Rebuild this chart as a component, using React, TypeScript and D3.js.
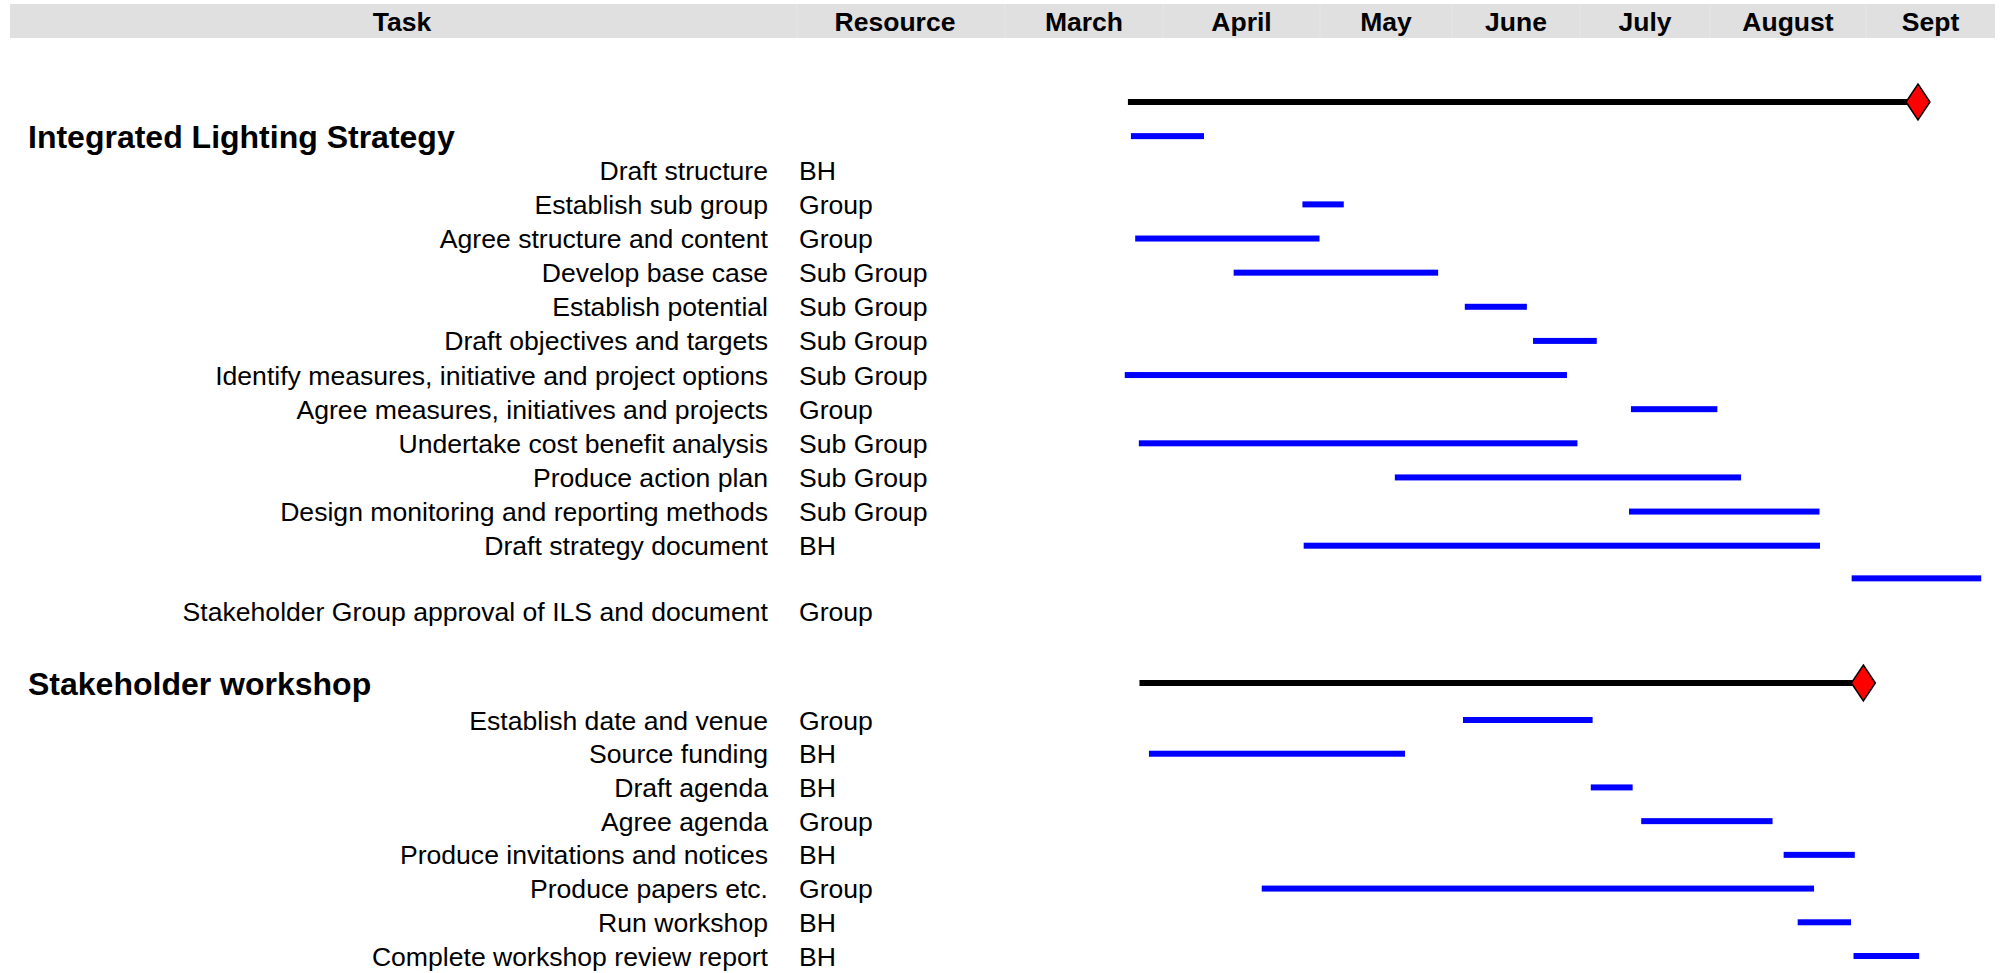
import React from "react";
import * as d3 from "d3";

// ---------- data ----------
const headerColumns = ["Task", "Resource"];
const monthLabels = ["March", "April", "May", "June", "July", "August", "Sept"];

const groupNames = ["Integrated Lighting Strategy", "Stakeholder workshop"];
const groupRows = [0, 16];
const summaryRows = [-1, 16];
// values in months counted from 1 March (0 = 1 March, 1 = 1 April, ...)
const summaryStart = [0.778, 0.851];
const milestoneAt = [6.403, 5.983];

const taskNames = [
  "Draft structure",
  "Establish sub group",
  "Agree structure and content",
  "Develop base case",
  "Establish potential",
  "Draft objectives and targets",
  "Identify measures, initiative and project options",
  "Agree measures, initiatives and projects",
  "Undertake cost benefit analysis",
  "Produce action plan",
  "Design monitoring and reporting methods",
  "Draft strategy document",
  "Stakeholder Group approval of ILS and document",
  "Establish date and venue",
  "Source funding",
  "Draft agenda",
  "Agree agenda",
  "Produce invitations and notices",
  "Produce papers etc.",
  "Run workshop",
  "Complete workshop review report",
];
const taskResources = [
  "BH", "Group", "Group", "Sub Group", "Sub Group", "Sub Group", "Sub Group",
  "Group", "Sub Group", "Sub Group", "Sub Group", "BH", "Group",
  "Group", "BH", "BH", "Group", "BH", "Group", "BH", "BH",
];
const taskRows = [1, 2, 3, 4, 5, 6, 7, 8, 9, 10, 11, 12, 14, 17, 18, 19, 20, 21, 22, 23, 24];
const barRows = [0, 2, 3, 4, 5, 6, 7, 8, 9, 10, 11, 12, 13, 17, 18, 19, 20, 21, 22, 23, 24];
const taskStart = [
  0.797, 1.888, 0.824, 1.45, 3.1, 3.633, 0.758, 4.392, 0.847, 2.567, 4.377, 1.896, 5.908,
  3.086, 0.911, 4.083, 4.471, 5.472, 1.629, 5.562, 5.92,
];
const taskEnd = [
  1.261, 2.18, 1.997, 2.895, 3.585, 4.129, 3.898, 5.047, 3.98, 5.199, 5.702, 5.705, 6.893,
  4.097, 2.644, 4.405, 5.401, 5.928, 5.667, 5.904, 6.412,
];

// ---------- layout ----------
const W = 2004;
const H = 973;
const FONT = "'Liberation Sans', Arial, Helvetica, sans-serif";

export default function App() {
  const x = d3
    .scaleLinear()
    .domain(d3.range(0, monthLabels.length + 1))
    .range([1005, 1163, 1320, 1452, 1580, 1710, 1866, 1995]);
  const y = d3
    .scaleLinear()
    .domain([-1, 12, 14, 16, 17, 24])
    .range([102, 545.7, 611, 683, 720, 956]);

  const headerCols = [
    { label: headerColumns[0], x0: 10, x1: 797, cx: 402 },
    { label: headerColumns[1], x0: 797, x1: x(0), cx: 895 },
    ...monthLabels.map((m, i) => ({ label: m, x0: x(i), x1: x(i + 1), cx: (x(i) + x(i + 1)) / 2 })),
  ];

  const barH = 6;
  const diamond = (cx: number, cy: number) =>
    `M${cx},${cy - 18}L${cx + 12},${cy}L${cx},${cy + 18}L${cx - 12},${cy}Z`;

  return (
    <svg
      width={W}
      height={H}
      style={{ position: "absolute", left: 0, top: 0, background: "#fff" }}
      fontFamily={FONT}
    >
      {/* header band */}
      <rect x={10} y={4} width={1985} height={34} fill="#e0e0e0" />
      {headerCols.slice(1).map((c, i) => (
        <line key={"sep" + i} x1={c.x0} x2={c.x0} y1={4} y2={38} stroke="#e6e6e6" strokeWidth={1} />
      ))}
      {headerCols.map((c, i) => (
        <text
          key={"h" + i}
          x={c.cx}
          y={31}
          textAnchor="middle"
          fontWeight="bold"
          fontSize={26.5}
          fill="#000"
        >
          {c.label}
        </text>
      ))}

      {/* group headings */}
      {groupNames.map((g, i) => (
        <text key={"g" + i} x={28} y={y(groupRows[i])} dy="0.36em" fontSize={32} fontWeight="bold" fill="#000">
          {g}
        </text>
      ))}

      {/* task labels */}
      {taskNames.map((t, i) => (
        <g key={"t" + i}>
          <text x={768} y={y(taskRows[i])} dy="0.36em" textAnchor="end" fontSize={26.6} fill="#000">
            {t}
          </text>
          <text x={799} y={y(taskRows[i])} dy="0.36em" fontSize={26.6} fill="#000">
            {taskResources[i]}
          </text>
        </g>
      ))}

      {/* summary lines + milestones */}
      {groupNames.map((g, i) => (
        <g key={"s" + i}>
          <rect
            x={x(summaryStart[i])}
            y={y(summaryRows[i]) - barH / 2}
            width={x(milestoneAt[i]) - x(summaryStart[i])}
            height={barH}
            fill="#000"
          />
          <path d={diamond(x(milestoneAt[i]), y(summaryRows[i]))} fill="#ff0000" stroke="#000" strokeWidth={1.5} />
        </g>
      ))}

      {/* task bars */}
      {taskNames.map((t, i) => (
        <rect
          key={"b" + i}
          x={x(taskStart[i])}
          y={y(barRows[i]) - barH / 2}
          width={x(taskEnd[i]) - x(taskStart[i])}
          height={barH}
          fill="#0000ff"
        />
      ))}
    </svg>
  );
}
